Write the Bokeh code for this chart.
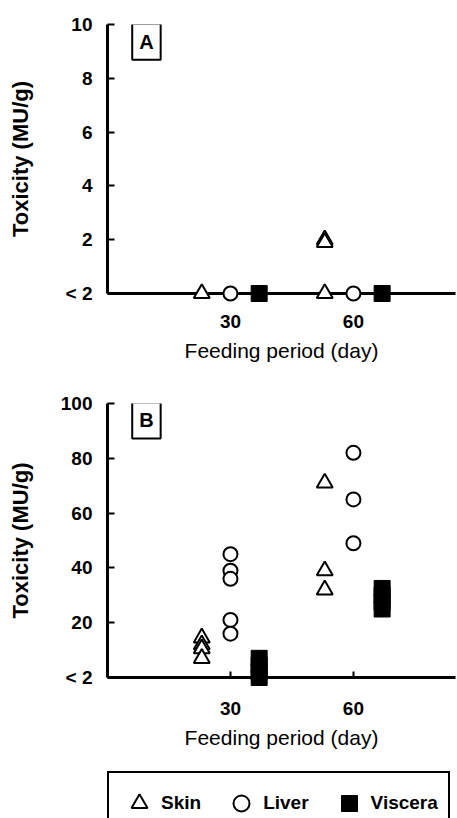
from bokeh.plotting import figure
from bokeh.models import Range1d, FixedTicker, Label, Legend, LegendItem, ColumnDataSource
from bokeh.layouts import column
from bokeh.transform import dodge
from bokeh.embed import file_html
from bokeh.resources import INLINE

# ---------------- data ----------------
# Panel A (toxicity, MU/g; 0 = "< 2")
a_skin_day = [30, 60, 60, 60]
a_skin_tox = [0, 2.0, 1.9, 0]
a_liver_day = [30, 60]
a_liver_tox = [0, 0]
a_visc_day = [30, 60]
a_visc_tox = [0, 0]

# Panel B
b_skin_day = [30, 30, 30, 30, 60, 60, 60]
b_skin_tox = [14.5, 12, 10.5, 7, 71, 39, 32]
b_liver_day = [30, 30, 30, 30, 30, 60, 60, 60]
b_liver_tox = [45, 39, 36, 21, 16, 82, 65, 49]
b_visc_day = [30, 30, 30, 30, 60, 60, 60, 60]
b_visc_tox = [7, 4.5, 2, 0, 32.5, 30, 27.5, 25]

x_ticks = [30, 60]
a_y_ticks = [0, 2, 4, 6, 8, 10]
b_y_ticks = [0, 20, 40, 60, 80, 100]
below_label = "< 2"
x_title = "Feeding period (day)"
y_title = "Toxicity (MU/g)"
tissues = ["Skin", "Liver", "Viscera"]

FONT = "Liberation Sans"

SKIN_STYLE = dict(marker="triangle", size=16, fill_color="white", line_color="black", line_width=2)
LIVER_STYLE = dict(marker="circle", size=14, fill_color="white", line_color="black", line_width=2)
VISC_STYLE = dict(marker="square", size=16, fill_color="black", line_color="black", line_width=1)


def make_panel(height, b_top, b_bottom, y_end, y_ticks, letter, letter_y,
               tick_standoff, ylab_standoff, data):
    p = figure(width=457, height=height, x_range=Range1d(0, 84.9),
               y_range=Range1d(0, y_end), output_backend="svg",
               toolbar_location=None, min_border_left=107, min_border_right=2,
               min_border_top=b_top, min_border_bottom=b_bottom)
    p.grid.visible = False
    p.outline_line_color = None
    p.background_fill_color = "white"
    p.border_fill_color = "white"

    xa = p.xaxis[0]
    xa.ticker = FixedTicker(ticks=x_ticks)
    xa.axis_line_width = 3
    xa.major_tick_in = 6
    xa.major_tick_out = 0
    xa.major_tick_line_width = 2
    xa.minor_tick_line_color = None
    xa.major_label_text_font = FONT
    xa.major_label_text_font_style = "bold"
    xa.major_label_text_font_size = "19px"
    xa.major_label_text_color = "black"
    xa.major_label_standoff = tick_standoff
    xa.axis_label = x_title
    xa.axis_label_text_font = FONT
    xa.axis_label_text_font_style = "normal"
    xa.axis_label_text_font_size = "21px"
    xa.axis_label_text_color = "black"
    xa.axis_label_standoff = 8

    ya = p.yaxis[0]
    ya.ticker = FixedTicker(ticks=y_ticks)
    ya.major_label_overrides = {0: below_label}
    ya.axis_line_width = 3
    ya.major_tick_in = 7
    ya.major_tick_out = 0
    ya.major_tick_line_width = 2
    ya.minor_tick_line_color = None
    ya.major_label_text_font = FONT
    ya.major_label_text_font_style = "bold"
    ya.major_label_text_font_size = "19px"
    ya.major_label_text_color = "black"
    ya.major_label_standoff = 15
    ya.axis_label = y_title
    ya.axis_label_text_font = FONT
    ya.axis_label_text_font_style = "bold"
    ya.axis_label_text_font_size = "22px"
    ya.axis_label_text_color = "black"
    ya.axis_label_standoff = ylab_standoff

    (sd, st), (ld, lt), (vd, vt) = data
    rs = p.scatter(x=dodge("day", -7, range=p.x_range), y="tox",
                   source=ColumnDataSource(dict(day=sd, tox=st)), **SKIN_STYLE)
    rl = p.scatter(x="day", y="tox",
                   source=ColumnDataSource(dict(day=ld, tox=lt)), **LIVER_STYLE)
    rv = p.scatter(x=dodge("day", 7, range=p.x_range), y="tox",
                   source=ColumnDataSource(dict(day=vd, tox=vt)), **VISC_STYLE)
    for r in (rs, rl, rv):
        r.level = "overlay"

    p.add_layout(Label(x=9.5, y=letter_y, text=letter, text_align="center",
                       text_baseline="middle", text_font=FONT, text_color="black",
                       text_font_style="bold", text_font_size="20px",
                       padding=7, border_line_color="black", border_line_width=2,
                       background_fill_color="white"))
    return p


b_data = [(b_skin_day, b_skin_tox), (b_liver_day, b_liver_tox), (b_visc_day, b_visc_tox)]

pA = make_panel(380, 24, 87, 10, a_y_ticks, "A", 9.36, 21, 30,
                [(a_skin_day, a_skin_tox), (a_liver_day, a_liver_tox),
                 (a_visc_day, a_visc_tox)])
pB = make_panel(380, 23, 83, 100, b_y_ticks, "B", 93.8, 24, 25, b_data)

# legend strip: proxies carry panel B's series but sit outside this strip's ranges
pL = figure(width=457, height=58, x_range=Range1d(0, 1), y_range=Range1d(0, 1),
            output_backend="svg", toolbar_location=None,
            x_axis_location=None, y_axis_location=None,
            min_border=0, min_border_left=0, min_border_right=0,
            min_border_top=0, min_border_bottom=0)
pL.grid.visible = False
pL.outline_line_color = None
lr = [pL.scatter(x="day", y="tox", source=ColumnDataSource(dict(day=d, tox=t)), **st)
      for (d, t), st in zip(b_data, (SKIN_STYLE, LIVER_STYLE, VISC_STYLE))]
legend = Legend(items=[LegendItem(label=t, renderers=[r]) for t, r in zip(tissues, lr)],
                orientation="horizontal", location=(0, -17),
                glyph_width=40, glyph_height=40, label_standoff=2, spacing=20,
                padding=10, margin=0, border_line_color="black", border_line_width=2,
                border_line_alpha=1, background_fill_color="white", background_fill_alpha=1,
                label_text_font=FONT, label_text_font_style="bold",
                label_text_font_size="19px", label_text_color="black")
pL.add_layout(legend)

layout = column(pA, pB, pL, spacing=0)
open("out.html", "w").write(file_html(layout, INLINE))
